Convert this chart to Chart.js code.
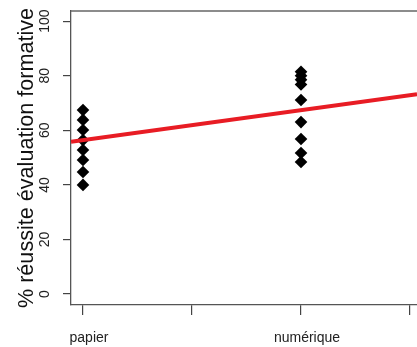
<!DOCTYPE html>
<html>
<head>
<meta charset="utf-8">
<script src="https://cdn.jsdelivr.net/npm/chart.js@4/dist/chart.umd.min.js"></script>
<style>
  html, body { margin: 0; padding: 0; background: #fff; }
  canvas { display: block; }
</style>
</head>
<body>
<canvas id="chart" width="417" height="347"></canvas>
<script>
// categories and their positions on the x axis
const categories = ['papier', 'numérique'];
const catPositions = [1, 2];
const xTickPositions = [1, 1.5, 2, 2.5];
const xTickLabels = ['papier', '', 'numérique', ''];

// % réussite per group
const papierValues = [67.4, 63.8, 60.1, 56.4, 52.8, 49.1, 44.7, 40.0];
const numeriqueValues = [81.4, 80.0, 78.5, 76.8, 71.1, 63.0, 56.8, 51.7, 48.4];

// fitted line value at each category
const fitValues = [56.4, 67.4];

const yTicks = [0, 20, 40, 60, 80, 100];
const yTitle = '% réussite évaluation formative';

const xMin = 0.945, xMax = 2.532;
const yMin = -4.0, yMax = 103.7;

const slope = (fitValues[1] - fitValues[0]) / (catPositions[1] - catPositions[0]);
const intercept = fitValues[0] - slope * catPositions[0];

function toPoints(pos, values) {
    return values.map(function (v) { return { x: pos, y: v }; });
}

// top border of the box and rotated y tick labels
const boxPlugin = {
    id: 'boxPlugin',
    afterDraw: function (chart) {
        const ctx = chart.ctx;
        const area = chart.chartArea;
        const y = chart.scales.y;
        ctx.save();
        ctx.strokeStyle = '#666';
        ctx.lineWidth = 1.3;
        ctx.beginPath();
        ctx.moveTo(area.left, area.top);
        ctx.lineTo(area.right, area.top);
        ctx.stroke();

        ctx.fillStyle = '#222';
        ctx.font = '14px "Liberation Sans", Arial, sans-serif';
        ctx.textAlign = 'center';
        ctx.textBaseline = 'middle';
        yTicks.forEach(function (t) {
            ctx.save();
            ctx.translate(45, y.getPixelForValue(t));
            ctx.rotate(-Math.PI / 2);
            ctx.fillText(String(t), 0, 0);
            ctx.restore();
        });
        ctx.restore();
    }
};

new Chart(document.getElementById('chart'), {
    type: 'scatter',
    data: {
        datasets: [{
            type: 'line',
            data: [
                { x: xMin, y: intercept + slope * xMin },
                { x: xMax, y: intercept + slope * xMax }
            ],
            borderColor: 'rgb(232, 28, 36)',
            borderWidth: 4,
            pointRadius: 0,
            fill: false
        }, {
            label: categories[0],
            data: toPoints(catPositions[0], papierValues),
            pointStyle: 'rectRot',
            pointRadius: 6.3,
            borderWidth: 0,
            backgroundColor: '#000'
        }, {
            label: categories[1],
            data: toPoints(catPositions[1], numeriqueValues),
            pointStyle: 'rectRot',
            pointRadius: 6.3,
            borderWidth: 0,
            backgroundColor: '#000'
        }]
    },
    options: {
        responsive: false,
        animation: false,
        devicePixelRatio: 1,
        layout: { autoPadding: false, padding: { top: 11, right: 0, left: 0, bottom: 0 } },
        plugins: {
            legend: { display: false },
            tooltip: { enabled: false }
        },
        scales: {
            x: {
                type: 'linear',
                min: xMin,
                max: xMax,
                afterBuildTicks: function (scale) {
                    scale.ticks = xTickPositions.map(function (v) { return { value: v }; });
                },
                afterFit: function (scale) {
                    scale.height = 42;
                    scale.paddingLeft = 0;
                    scale.paddingRight = 0;
                },
                ticks: {
                    autoSkip: false,
                    maxRotation: 0,
                    padding: 15,
                    labelOffset: 6,
                    color: '#222',
                    font: { family: '"Liberation Sans", Arial, sans-serif', size: 14 },
                    callback: function (value, index) { return xTickLabels[index]; }
                },
                grid: {
                    drawOnChartArea: false,
                    drawTicks: true,
                    tickLength: 10,
                    color: '#444',
                    lineWidth: 1.2
                },
                border: { display: true, color: '#555', width: 1.3 }
            },
            y: {
                type: 'linear',
                min: yMin,
                max: yMax,
                afterBuildTicks: function (scale) {
                    scale.ticks = yTicks.map(function (v) { return { value: v }; });
                },
                afterFit: function (scale) {
                    scale.width = 71;
                    scale.paddingTop = 0;
                    scale.paddingBottom = 0;
                },
                ticks: { display: false },
                title: {
                    display: true,
                    text: yTitle,
                    color: '#111',
                    padding: { top: 14, bottom: 0 },
                    font: { family: '"Liberation Sans", Arial, sans-serif', size: 21.6 }
                },
                grid: {
                    drawOnChartArea: false,
                    drawTicks: true,
                    tickLength: 8,
                    color: '#444',
                    lineWidth: 1.2
                },
                border: { display: true, color: '#555', width: 1.3 }
            }
        }
    },
    plugins: [boxPlugin]
});
</script>
</body>
</html>
